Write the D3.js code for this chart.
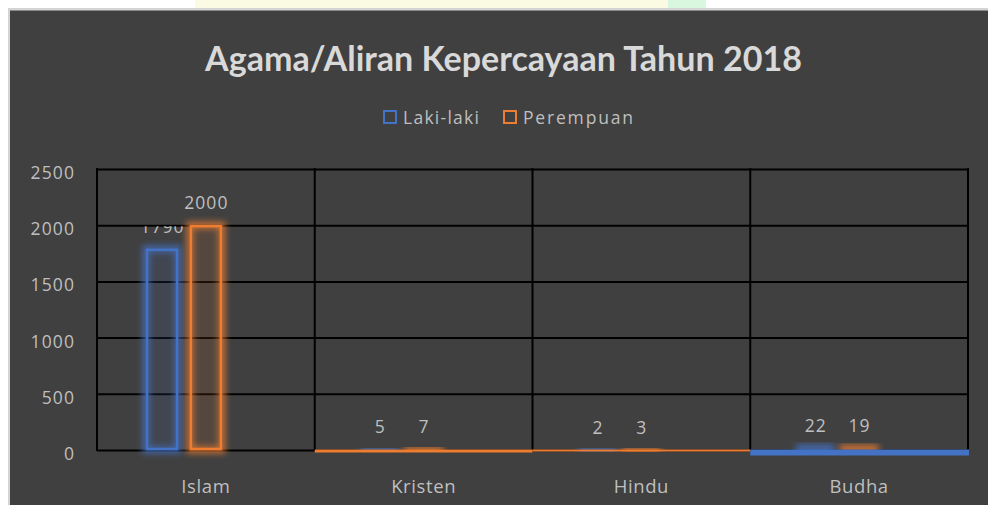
<!DOCTYPE html>
<html><head><meta charset="utf-8">
<script src="https://cdn.jsdelivr.net/npm/d3@7"></script>
<style>html,body{margin:0;padding:0;background:#fff;overflow:hidden} svg{display:block}</style>
</head><body>
<svg id="chart" width="988" height="505"></svg>
<script>
const categories = ["Islam", "Kristen", "Hindu", "Budha"];
const seriesNames = ["Laki-laki", "Perempuan"];
const lakiLaki = [1790, 5, 2, 22];
const perempuan = [2000, 7, 3, 19];
const yTicks = [0, 500, 1000, 1500, 2000, 2500];
const titleText = "Agama/Aliran Kepercayaan Tahun 2018";

(function(){
const seriesValues = [lakiLaki, perempuan];
const colors = ["#4472C4", "#ED7D31"];
const svg = d3.select("#chart");
const textColor = "#bfbfbf";
const font = "'Open Sans', 'Noto Sans', sans-serif";

// page background pieces (watermark strip at top)
svg.append("rect").attr("x",195).attr("y",0).attr("width",475).attr("height",9).attr("fill","#fbfbe3");
svg.append("rect").attr("x",668).attr("y",0).attr("width",38).attr("height",9).attr("fill","#d9f6df");
// chart panel
svg.append("rect").attr("x",8).attr("y",8).attr("width",990).attr("height",505).attr("fill","#d4d4d4");
svg.append("rect").attr("x",10).attr("y",10).attr("width",990).attr("height",505).attr("fill","#404040");
svg.append("line").attr("x1",10).attr("x2",988).attr("y1",10.5).attr("y2",10.5).attr("stroke","#8a8a8a").attr("stroke-width",1);

const defs = svg.append("defs");
const glow = defs.append("filter").attr("id","glow").attr("x","-50%").attr("y","-200%").attr("width","200%").attr("height","500%");
glow.append("feGaussianBlur").attr("stdDeviation",3);

const pLeft = 97, pRight = 968, pTop = 169, pBottom = 450;
const x = d3.scaleBand().domain(categories).range([pLeft, pRight]).padding(0);
const x1 = d3.scaleBand().domain([...seriesNames, "_"])
  .range([x.bandwidth()*0.225, x.bandwidth()*0.775]).paddingInner(0.27);
const y = d3.scaleLinear().domain([0, 2500]).range([pBottom, pTop]);

// title
const title = svg.append("text").attr("x",503.5).attr("y",71).attr("text-anchor","middle")
  .attr("font-family","Lato, 'Open Sans', sans-serif").attr("font-weight","bold")
  .attr("font-size",32).attr("fill","#d9d9d9").text(titleText);
{
  const w = title.node().getComputedTextLength();
  title.attr("font-size", 32*597/w);
}

// legend
const legendX = [383, 503];
seriesNames.forEach((s,i)=>{
  svg.append("rect").attr("x",legendX[i]+1).attr("y",111).attr("width",12).attr("height",12)
    .attr("fill","none").attr("stroke",colors[i]).attr("stroke-width",2);
  const t = svg.append("text").attr("x",legendX[i]+20).attr("y",124).attr("font-family",font)
    .attr("font-size",17.5).attr("fill",textColor).text(s);
  const target = i===0 ? 76 : 110;
  t.attr("textLength",target).attr("lengthAdjust","spacing");
});

// horizontal gridlines + y labels
const yAxis = svg.append("g").attr("transform",`translate(${pLeft},0)`)
  .call(d3.axisLeft(y).tickValues(yTicks).tickFormat(d3.format("d")).tickSize(-(pRight-pLeft)).tickPadding(22));
yAxis.select(".domain").remove();
yAxis.selectAll("line").attr("stroke","#000").attr("stroke-width",2);
yAxis.selectAll("text").attr("fill",textColor).attr("font-family",font).attr("font-size",17.5)
  .attr("letter-spacing",1.1).attr("dy","0.54em");

// vertical gridlines
const vx = categories.map(c=>x(c)).concat([pRight]);
svg.append("g").selectAll("line").data(vx).join("line")
  .attr("x1",d=>d).attr("x2",d=>d).attr("y1",pTop-1).attr("y2",pBottom+1)
  .attr("stroke","#000").attr("stroke-width",2);

// bars
const bars = svg.append("g");
categories.forEach((c,ci)=>{
  seriesNames.forEach((s,si)=>{
    const v = seriesValues[si][ci];
    const bx = x(c)+x1(s), bw = x1.bandwidth(), by = y(v), bh = Math.max(y(0)-y(v), 0.5);
    bars.append("rect").attr("x",bx).attr("y",by).attr("width",bw).attr("height",bh)
      .attr("fill",colors[si]).attr("fill-opacity",0.12).attr("stroke",colors[si])
      .attr("stroke-opacity",0.75).attr("stroke-width",7).attr("filter","url(#glow)");
    bars.append("rect").attr("x",bx+1).attr("y",by+1).attr("width",bw-2).attr("height",Math.max(bh-2,0))
      .attr("fill","none").attr("stroke",colors[si]).attr("stroke-width",2.5)
      .attr("stroke-opacity", v>100?1:0);
  });
});

// baseline segments (as in reference)
const baseStyle = [null, {c:colors[1], w:3, o:1}, {c:colors[1], w:2, o:0.5}, {c:colors[0], w:6, o:2.5}];
categories.forEach((c,i)=>{
  const st = baseStyle[i];
  if(!st) return;
  svg.append("line").attr("x1",x(c)).attr("x2",x(c)+x.bandwidth()+(i===3?1:0))
    .attr("y1",pBottom+st.o).attr("y2",pBottom+st.o).attr("stroke",st.c).attr("stroke-width",st.w);
});

// data labels
defs.append("clipPath").attr("id","clipLab").append("rect")
  .attr("x",0).attr("y",y(yTicks[4])+1).attr("width",988).attr("height",505);
seriesNames.forEach((s,si)=>{
  const g = svg.append("g").attr("clip-path", si===0 ? "url(#clipLab)" : null);
  categories.forEach((c,ci)=>{
    const v = seriesValues[si][ci];
    g.append("text").attr("x",x(c)+x1(s)+x1.bandwidth()/2+0.5).attr("y",y(v)-16)
      .attr("text-anchor","middle").attr("font-family",font).attr("font-size",17.5)
      .attr("letter-spacing",1.1).attr("fill",textColor).text(v);
  });
});

// category labels
svg.append("g").selectAll("text").data(categories).join("text")
  .attr("x",d=>x(d)+x.bandwidth()/2).attr("y",493).attr("text-anchor","middle")
  .attr("font-family",font).attr("font-size",18.5).attr("letter-spacing",0.6)
  .attr("fill",textColor).text(d=>d);
})();
</script>
</body></html>
